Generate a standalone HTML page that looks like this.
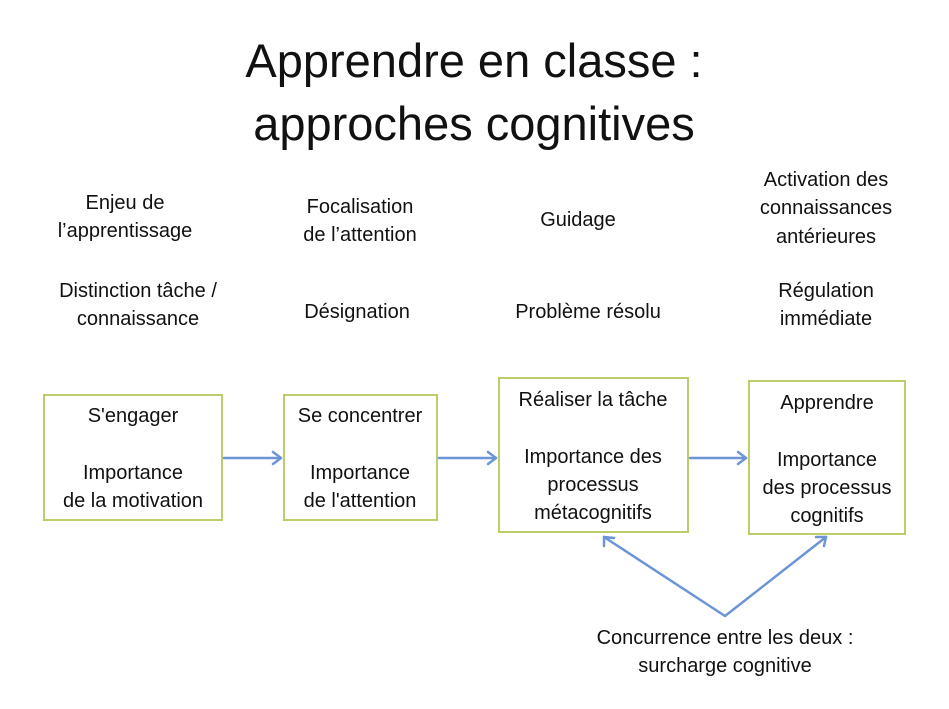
<!DOCTYPE html>
<html><head><meta charset="utf-8">
<style>
html,body{margin:0;padding:0;background:#fff;}
body{width:949px;height:709px;position:relative;overflow:hidden;font-family:"Liberation Sans",sans-serif;color:#111;}
.t{position:absolute;width:300px;text-align:center;font-size:20px;line-height:28px;height:28px;white-space:nowrap;}
.h{position:absolute;width:700px;left:124px;text-align:center;font-size:47px;line-height:60px;white-space:nowrap;}
.b{position:absolute;border:2px solid #bccd6a;box-sizing:border-box;}
svg{position:absolute;left:0;top:0;}
</style></head><body>
<div class="h" style="top:31px">Apprendre en classe :</div>
<div class="h" style="top:94px">approches cognitives</div>

<div class="t" style="left:-25px;top:189px">Enjeu de</div>
<div class="t" style="left:-25px;top:217px">l’apprentissage</div>
<div class="t" style="left:210px;top:193px">Focalisation</div>
<div class="t" style="left:210px;top:221px">de l’attention</div>
<div class="t" style="left:428px;top:206px">Guidage</div>
<div class="t" style="left:676px;top:166px">Activation des</div>
<div class="t" style="left:676px;top:194px">connaissances</div>
<div class="t" style="left:676px;top:223px">antérieures</div>

<div class="t" style="left:-12px;top:277px">Distinction tâche /</div>
<div class="t" style="left:-12px;top:305px">connaissance</div>
<div class="t" style="left:207px;top:298px">Désignation</div>
<div class="t" style="left:438px;top:298px">Problème résolu</div>
<div class="t" style="left:676px;top:277px">Régulation</div>
<div class="t" style="left:676px;top:305px">immédiate</div>

<div class="b" style="left:43px;top:394px;width:180px;height:127px"></div>
<div class="b" style="left:283px;top:394px;width:155px;height:127px"></div>
<div class="b" style="left:498px;top:377px;width:191px;height:156px"></div>
<div class="b" style="left:748px;top:380px;width:158px;height:155px"></div>

<div class="t" style="left:-17px;top:402px">S'engager</div>
<div class="t" style="left:-17px;top:459px">Importance</div>
<div class="t" style="left:-17px;top:487px">de la motivation</div>

<div class="t" style="left:210px;top:402px">Se concentrer</div>
<div class="t" style="left:210px;top:459px">Importance</div>
<div class="t" style="left:210px;top:487px">de l'attention</div>

<div class="t" style="left:443px;top:386px">Réaliser la tâche</div>
<div class="t" style="left:443px;top:443px">Importance des</div>
<div class="t" style="left:443px;top:471px">processus</div>
<div class="t" style="left:443px;top:499px">métacognitifs</div>

<div class="t" style="left:677px;top:389px">Apprendre</div>
<div class="t" style="left:677px;top:446px">Importance</div>
<div class="t" style="left:677px;top:474px">des processus</div>
<div class="t" style="left:677px;top:502px">cognitifs</div>

<div class="t" style="left:575px;top:624px">Concurrence entre les deux :</div>
<div class="t" style="left:575px;top:652px">surcharge cognitive</div>

<svg width="949" height="709" viewBox="0 0 949 709">
<g stroke="#6d95d6" stroke-width="2.5" fill="none" stroke-linecap="round" stroke-linejoin="round">
<line x1="224" y1="458" x2="281" y2="458"/>
<polyline points="273,452 281,458 273,464"/>
<line x1="439" y1="458" x2="496" y2="458"/>
<polyline points="488,452 496,458 488,464"/>
<line x1="690" y1="458" x2="746" y2="458"/>
<polyline points="738,452 746,458 738,464"/>
<polyline points="604,537 725,616 826,537"/>
<polyline points="604,546 604,537 614,538"/>
<polyline points="816,537 826,537 824,546"/>
</g>
</svg>
</body></html>
